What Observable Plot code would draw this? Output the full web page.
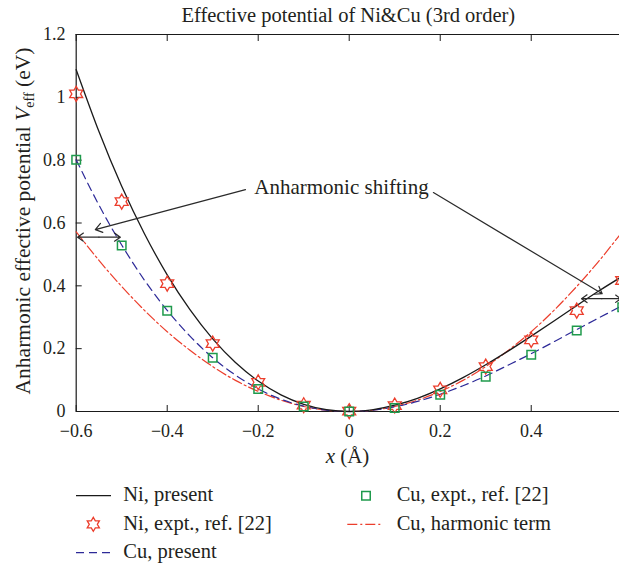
<!DOCTYPE html>
<html><head><meta charset="utf-8">
<script src="https://cdn.jsdelivr.net/npm/d3@7"></script>
<script src="https://cdn.jsdelivr.net/npm/@observablehq/plot@0.6"></script>
<style>
body{margin:0;background:#fff;}
#chart svg{display:block}
</style></head><body><div id="chart"></div>
<script>
// ---- data ----
const titleText = "Effective potential of Ni&Cu (3rd order)";
const seriesNames = ["Ni, present", "Ni, expt., ref. [22]", "Cu, present", "Cu, expt., ref. [22]", "Cu, harmonic term"];
const annotationText = "Anharmonic shifting";

const xGrid = [-0.6, -0.55, -0.5, -0.45, -0.4, -0.35, -0.3, -0.25, -0.2, -0.15, -0.1, -0.05, 0,
               0.05, 0.1, 0.15, 0.2, 0.25, 0.3, 0.35, 0.4, 0.45, 0.5, 0.55, 0.6];
const niPresent = [1.088, 0.891, 0.717, 0.566, 0.435, 0.324, 0.231, 0.156, 0.097, 0.053, 0.023, 0.006, 0,
                   0.005, 0.020, 0.042, 0.072, 0.108, 0.149, 0.193, 0.240, 0.288, 0.337, 0.385, 0.430];
const cuPresent = [0.801, 0.657, 0.530, 0.418, 0.322, 0.240, 0.171, 0.116, 0.072, 0.039, 0.017, 0.004, 0,
                   0.004, 0.015, 0.032, 0.055, 0.082, 0.113, 0.148, 0.184, 0.222, 0.261, 0.299, 0.337];
const cuHarmonic = [0.572, 0.481, 0.398, 0.322, 0.254, 0.195, 0.143, 0.099, 0.064, 0.036, 0.016, 0.004, 0,
                    0.004, 0.016, 0.036, 0.064, 0.099, 0.143, 0.195, 0.254, 0.322, 0.398, 0.481, 0.572];

const xExpt = [-0.6, -0.5, -0.4, -0.3, -0.2, -0.1, 0, 0.1, 0.2, 0.3, 0.4, 0.5, 0.6];
const niExpt = [1.011, 0.668, 0.407, 0.216, 0.093, 0.020, 0.001, 0.019, 0.069, 0.143, 0.228, 0.321, 0.417];
const cuExpt = [0.801, 0.528, 0.321, 0.171, 0.072, 0.016, 0, 0.011, 0.053, 0.111, 0.181, 0.258, 0.332];

const xTicks = [-0.6, -0.4, -0.2, 0, 0.2, 0.4];
const yTicks = [0, 0.2, 0.4, 0.6, 0.8, 1.0, 1.2];
const xDomain = [-0.6, 0.594];
const yDomain = [0, 1.2];

// annotation arrows (data units)
const arrows = [
  {x1: -0.228, y1: 0.706, x2: -0.558, y2: 0.579},
  {x1: 0.185, y1: 0.697, x2: 0.556, y2: 0.375},
  {x1: -0.55, y1: 0.555, x2: -0.597, y2: 0.555},
  {x1: -0.55, y1: 0.555, x2: -0.503, y2: 0.555},
  {x1: 0.555, y1: 0.359, x2: 0.5105, y2: 0.359},
  {x1: 0.555, y1: 0.359, x2: 0.597, y2: 0.359}
];
const annotation = [{x: -0.017, y: 0.715, text: annotationText}];

// ---- styles ----
const FONT = "'Liberation Serif', 'Times New Roman', serif";
const TEXT = "#231f20";
const BLACK = "#1a1a1a";
const RED = "#ec3e2c";
const BLUE = "#2d2a98";
const GREEN = "#1f9a4c";
const DASH_BLUE = "8,5";
const DASH_RED = "10,3,2,3";

const hexagram = {
  draw(context, size) {
    const R = Math.sqrt(size / Math.PI);
    const r = R / Math.sqrt(3);
    for (let i = 0; i < 12; i++) {
      const a = -Math.PI / 2 + i * Math.PI / 6;
      const rad = i % 2 === 0 ? R : r;
      const px = rad * Math.cos(a), py = rad * Math.sin(a);
      if (i === 0) context.moveTo(px, py); else context.lineTo(px, py);
    }
    context.closePath();
  }
};

const toPts = (xs, ys) => xs.map((x, i) => ({x, y: ys[i]}));
const niLine = toPts(xGrid, niPresent);
const cuLine = toPts(xGrid, cuPresent);
const harmLine = toPts(xGrid, cuHarmonic);
const niPts = toPts(xExpt, niExpt);
const cuPts = toPts(xExpt, cuExpt);

const fmt = d3.format("~g");

const plot = Plot.plot({
  width: 619,
  height: 470,
  marginLeft: 75.7,
  marginRight: 0,
  marginTop: 34,
  marginBottom: 59,
  x: {domain: xDomain},
  y: {domain: yDomain},
  style: {fontFamily: FONT, fontSize: "18px", color: TEXT, background: "white"},
  marks: [
    Plot.ruleY(yDomain, {stroke: BLACK, strokeWidth: 1.2}),
    Plot.ruleX([xDomain[0]], {stroke: BLACK, strokeWidth: 1.2}),
    Plot.axisX(xTicks, {anchor: "bottom", tickSize: -6, tickPadding: 18.7, tickFormat: fmt, label: null, fill: TEXT, stroke: BLACK}),
    Plot.axisX(xTicks, {anchor: "top", tickSize: -6, tickFormat: () => "", label: null, stroke: BLACK}),
    Plot.axisY(yTicks, {anchor: "left", tickSize: -6, tickPadding: 16.7, tickFormat: fmt, label: null, fill: TEXT, stroke: BLACK}),
    Plot.line(harmLine, {x: "x", y: "y", stroke: RED, strokeWidth: 1.2, strokeDasharray: DASH_RED, curve: "natural"}),
    Plot.line(cuLine, {x: "x", y: "y", stroke: BLUE, strokeWidth: 1.2, strokeDasharray: DASH_BLUE, curve: "natural"}),
    Plot.line(niLine, {x: "x", y: "y", stroke: BLACK, strokeWidth: 1.3, curve: "natural"}),
    Plot.dot(niPts, {x: "x", y: "y", symbol: hexagram, r: 7.5, stroke: RED, strokeWidth: 1.3, fill: "none"}),
    Plot.dot(cuPts, {x: "x", y: "y", symbol: "square", r: 4.8, stroke: GREEN, strokeWidth: 1.5, fill: "none"}),
    Plot.arrow(arrows, {x1: "x1", y1: "y1", x2: "x2", y2: "y2", stroke: "#2a2a2a", strokeWidth: 1.2, headLength: 10, headAngle: 70}),
    Plot.text(annotation, {x: "x", y: "y", text: "text", fontSize: 21, fill: TEXT})
  ]
});

const svg = d3.select(plot);
// title
svg.append("text")
  .attr("x", 348.3).attr("y", 22)
  .attr("text-anchor", "middle")
  .attr("font-family", FONT).attr("font-size", 20.5).attr("fill", TEXT)
  .text(titleText);
// x label
const xl = svg.append("text")
  .attr("x", 347.5).attr("y", 463)
  .attr("text-anchor", "middle")
  .attr("font-family", FONT).attr("font-size", 21).attr("fill", TEXT);
xl.append("tspan").attr("font-style", "italic").text("x");
xl.append("tspan").text(" (Å)");
// y label
const yl = svg.append("text")
  .attr("transform", "translate(30,221) rotate(-90)")
  .attr("text-anchor", "middle")
  .attr("font-family", FONT).attr("font-size", 21.5).attr("fill", TEXT);
yl.append("tspan").text("Anharmonic effective potential ");
yl.append("tspan").attr("font-style", "italic").text("V");
yl.append("tspan").attr("font-size", 14).attr("dy", 4).text("eff");
yl.append("tspan").attr("dy", -4).text(" (eV)");

document.getElementById("chart").appendChild(plot);

// ---- legend ----
const legend = d3.select("#chart").append("svg")
  .attr("width", 619).attr("height", 95)
  .style("display", "block")
  .attr("font-family", FONT).attr("font-size", 20.5);

const legendItems = [
  {name: seriesNames[0], col: 0, row: 0, kind: "line", stroke: BLACK, dash: null},
  {name: seriesNames[1], col: 0, row: 1, kind: "star"},
  {name: seriesNames[2], col: 0, row: 2, kind: "line", stroke: BLUE, dash: DASH_BLUE},
  {name: seriesNames[3], col: 1, row: 0, kind: "square"},
  {name: seriesNames[4], col: 1, row: 1, kind: "line", stroke: RED, dash: DASH_RED}
];
const colX = [76, 347.3];
const textX = [123.3, 396.7];
const rowY = [25.7, 54.3, 82.7];
legendItems.forEach(it => {
  const x0 = colX[it.col], y0 = rowY[it.row];
  if (it.kind === "line") {
    legend.append("line").attr("x1", x0).attr("x2", x0 + 35).attr("y1", y0).attr("y2", y0)
      .attr("stroke", it.stroke).attr("stroke-width", 1.3)
      .attr("stroke-dasharray", it.dash);
  } else if (it.kind === "star") {
    legend.append("path").attr("d", d3.symbol(hexagram, Math.PI * 7 * 7)())
      .attr("transform", `translate(${x0 + 17.3},${y0})`)
      .attr("fill", "none").attr("stroke", RED).attr("stroke-width", 1.3);
  } else {
    legend.append("path").attr("d", d3.symbol(d3.symbolSquare, 8.5 * 8.5)())
      .attr("transform", `translate(${x0 + 18.7},${y0})`)
      .attr("fill", "none").attr("stroke", GREEN).attr("stroke-width", 1.5);
  }
  legend.append("text").attr("x", textX[it.col]).attr("y", y0 + 5.5)
    .attr("fill", TEXT).text(it.name);
});
</script>
</body></html>
